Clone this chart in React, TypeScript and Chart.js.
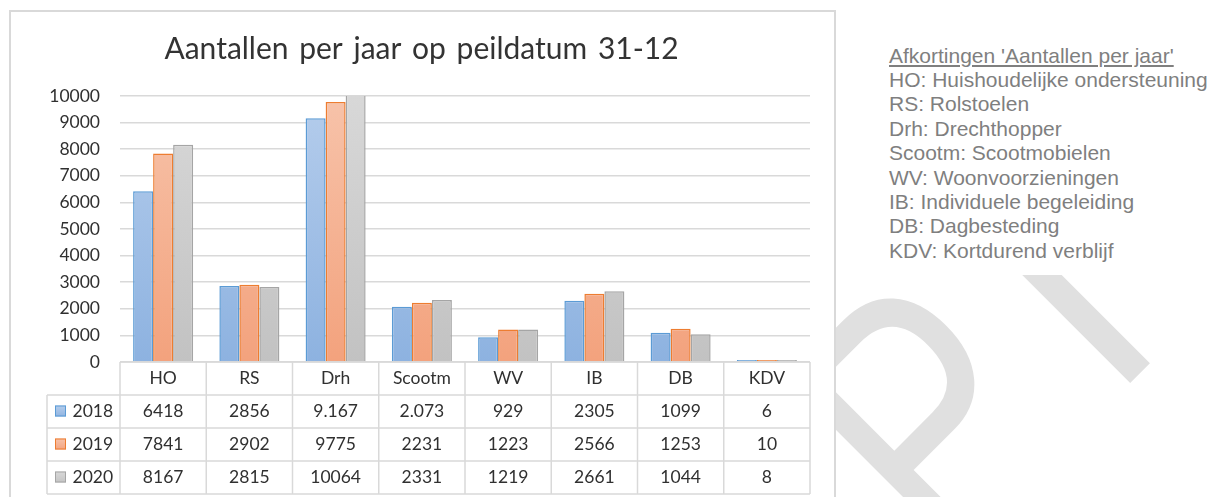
import React, { useEffect, useRef } from "react";
import { Chart, registerables } from "chart.js";

Chart.register(...registerables);

// ---------- data ----------
const categories = ["HO", "RS", "Drh", "Scootm", "WV", "IB", "DB", "KDV"];
const seriesNames = ["2018", "2019", "2020"];
const values2018 = [6418, 2856, 9167, 2073, 929, 2305, 1099, 6];
const values2019 = [7841, 2902, 9775, 2231, 1223, 2566, 1253, 10];
const values2020 = [8167, 2815, 10064, 2331, 1219, 2661, 1044, 8];
const tableText2018 = ["6418", "2856", "9.167", "2.073", "929", "2305", "1099", "6"];
const tableText2019 = ["7841", "2902", "9775", "2231", "1223", "2566", "1253", "10"];
const tableText2020 = ["8167", "2815", "10064", "2331", "1219", "2661", "1044", "8"];
const yTickValues = [0, 1000, 2000, 3000, 4000, 5000, 6000, 7000, 8000, 9000, 10000];
const chartTitle = "Aantallen per jaar op peildatum 31-12";
const notesTitle = "Afkortingen 'Aantallen per jaar'";
const notes = [
  "HO: Huishoudelijke ondersteuning",
  "RS: Rolstoelen",
  "Drh: Drechthopper",
  "Scootm: Scootmobielen",
  "WV: Woonvoorzieningen",
  "IB: Individuele begeleiding",
  "DB: Dagbesteding",
  "KDV: Kortdurend verblijf",
];
const watermarkLetters = ["P", "I"];

// ---------- styles ----------
const FONT = "Lato, 'Noto Sans', sans-serif";
const TEXT = "#303030";
const GRID = "#d9d9d9";
const seriesStyle = [
  { top: "#b5cdec", bottom: "#8db2e0", border: "#5b9bd5" },
  { top: "#f7c3aa", bottom: "#f3a27d", border: "#ed7d31" },
  { top: "#d8d8d8", bottom: "#c2c2c2", border: "#a5a5a5" },
];
const seriesValues = [values2018, values2019, values2020];
const tableTexts = [tableText2018, tableText2019, tableText2020];

const titlePlugin = {
  id: "customTitle",
  afterDraw(chart: any) {
    const ctx = chart.ctx as CanvasRenderingContext2D;
    ctx.save();
    ctx.font = `30px ${FONT}`;
    (ctx as any).wordSpacing = "3px";
    ctx.fillStyle = "#333333";
    ctx.textAlign = "center";
    ctx.textBaseline = "alphabetic";
    ctx.fillText(chartTitle, chart.width / 2 - 1, 47);
    ctx.restore();
  },
};

const tablePlugin = {
  id: "dataTable",
  afterDraw(chart: any) {
    const ctx = chart.ctx as CanvasRenderingContext2D;
    const xs = chart.scales.x;
    const area = chart.chartArea;
    const n = categories.length;
    const colW = (xs.right - xs.left) / n;
    const rowH = 33;
    const top = area.bottom;
    const legendLeft = 36;
    ctx.save();
    ctx.strokeStyle = GRID;
    ctx.lineWidth = 1.5;
    const line = (x1: number, y1: number, x2: number, y2: number) => {
      ctx.beginPath();
      ctx.moveTo(x1, y1);
      ctx.lineTo(x2, y2);
      ctx.stroke();
    };
    line(xs.left, top, xs.right, top);
    for (let r = 1; r <= 4; r++) line(legendLeft, top + r * rowH, xs.right, top + r * rowH);
    line(legendLeft, top + rowH, legendLeft, top + 4 * rowH);
    for (let i = 0; i <= n; i++) {
      const xx = xs.left + i * colW;
      line(xx, top, xx, top + 4 * rowH);
    }
    ctx.font = `17.5px ${FONT}`;
    ctx.fillStyle = TEXT;
    ctx.textAlign = "center";
    ctx.textBaseline = "middle";
    categories.forEach((c, i) => ctx.fillText(c, xs.getPixelForValue(i), top + rowH / 2));
    tableTexts.forEach((row, r) => {
      const cy = top + (r + 1.5) * rowH;
      row.forEach((t, i) => ctx.fillText(t, xs.getPixelForValue(i), cy));
      const st = seriesStyle[r];
      const g = ctx.createLinearGradient(0, cy - 6, 0, cy + 6);
      g.addColorStop(0, st.top);
      g.addColorStop(1, st.bottom);
      ctx.fillStyle = g;
      ctx.fillRect(44, cy - 6, 11, 11);
      ctx.strokeStyle = st.border;
      ctx.lineWidth = 1;
      ctx.strokeRect(44.5, cy - 5.5, 10, 10);
      ctx.fillStyle = TEXT;
      ctx.textAlign = "left";
      ctx.fillText(seriesNames[r], 61.5, cy);
      ctx.textAlign = "center";
    });
    ctx.restore();
  },
};

export default function App() {
  const canvasRef = useRef<HTMLCanvasElement | null>(null);

  useEffect(() => {
    let chart: Chart | null = null;
    let cancelled = false;
    const build = () => {
      if (cancelled || !canvasRef.current) return;
      chart = new Chart(canvasRef.current, {
        type: "bar",
        data: {
          labels: categories,
          datasets: seriesNames.map((name, i) => ({
            label: name,
            data: seriesValues[i],
            backgroundColor: (c: any) => {
              const a = c.chart.chartArea;
              if (!a) return seriesStyle[i].bottom;
              const g = c.chart.ctx.createLinearGradient(0, a.top, 0, a.bottom);
              g.addColorStop(0, seriesStyle[i].top);
              g.addColorStop(1, seriesStyle[i].bottom);
              return g;
            },
            borderColor: seriesStyle[i].border,
            borderWidth: 1.5,
            minBarLength: 2,
            categoryPercentage: 0.696,
            barPercentage: 1,
          })),
        },
        options: {
          animation: false,
          responsive: false,
          devicePixelRatio: 1,
          layout: { padding: { left: 0, right: 24, top: 84, bottom: 146 } },
          plugins: {
            legend: { display: false },
            tooltip: { enabled: false },
            title: { display: false },
          },
          scales: {
            x: { display: false },
            y: {
              min: 0,
              max: 10000,
              afterBuildTicks: (scale: any) => {
                scale.ticks = yTickValues.map((v) => ({ value: v }));
              },
              afterFit: (scale: any) => {
                scale.width = 109;
              },
              border: { display: false },
              grid: { color: GRID, lineWidth: 1.5, drawTicks: false },
              ticks: {
                padding: 20,
                color: TEXT,
                font: { family: FONT, size: 17.5 },
                callback: (v: any) => String(v),
              },
            },
          },
        },
        plugins: [tablePlugin, titlePlugin],
      } as any);
    };
    const fontsApi: any = (document as any).fonts;
    if (fontsApi && fontsApi.load) {
      Promise.all([fontsApi.load(`17.5px Lato`), fontsApi.load(`30px Lato`)])
        .catch(() => {})
        .then(build);
    } else {
      build();
    }
    return () => {
      cancelled = true;
      if (chart) chart.destroy();
    };
  }, []);

  const wmBase: React.CSSProperties = {
    position: "absolute",
    fontFamily: "'Liberation Sans', Arial, sans-serif",
    color: "#e0e0e0",
    transformOrigin: "0 0",
    whiteSpace: "nowrap",
    zIndex: 1,
  };

  return (
    <div
      style={{
        position: "fixed",
        left: 0,
        top: 0,
        width: 1214,
        height: 497,
        overflow: "hidden",
        background: "#ffffff",
      }}
    >
      <div
        style={{
          ...wmBase,
          left: 726.7,
          top: 354.3,
          fontSize: 285,
          lineHeight: "285px",
          transform: "rotate(-45deg) scaleY(1.3)",
        }}
      >
        {watermarkLetters[0]}
      </div>
      <div
        style={{
          ...wmBase,
          left: 930.7,
          top: 223,
          fontSize: 300,
          lineHeight: "300px",
          transform: "rotate(-45deg)",
        }}
      >
        {watermarkLetters[1]}
      </div>
      <div
        style={{
          position: "absolute",
          left: 9,
          top: 10,
          width: 827,
          height: 500,
          border: "2px solid #d9d9d9",
          boxSizing: "border-box",
          background: "#ffffff",
          zIndex: 2,
        }}
      >
        <canvas ref={canvasRef} width={823} height={496} style={{ display: "block", width: 823, height: 496 }} />
      </div>
      <div
        style={{
          position: "absolute",
          left: 845,
          top: 38,
          width: 369,
          height: 237,
          background: "#ffffff",
          zIndex: 2,
          boxSizing: "border-box",
          paddingLeft: 44,
          paddingTop: 5.5,
          fontFamily: "'Liberation Sans', Arial, sans-serif",
          fontSize: 21,
          lineHeight: "24.4px",
          color: "#7f7f7f",
          whiteSpace: "nowrap",
        }}
      >
        <div style={{ textDecoration: "underline" }}>{notesTitle}</div>
        {notes.map((t) => (
          <div key={t}>{t}</div>
        ))}
      </div>
    </div>
  );
}
